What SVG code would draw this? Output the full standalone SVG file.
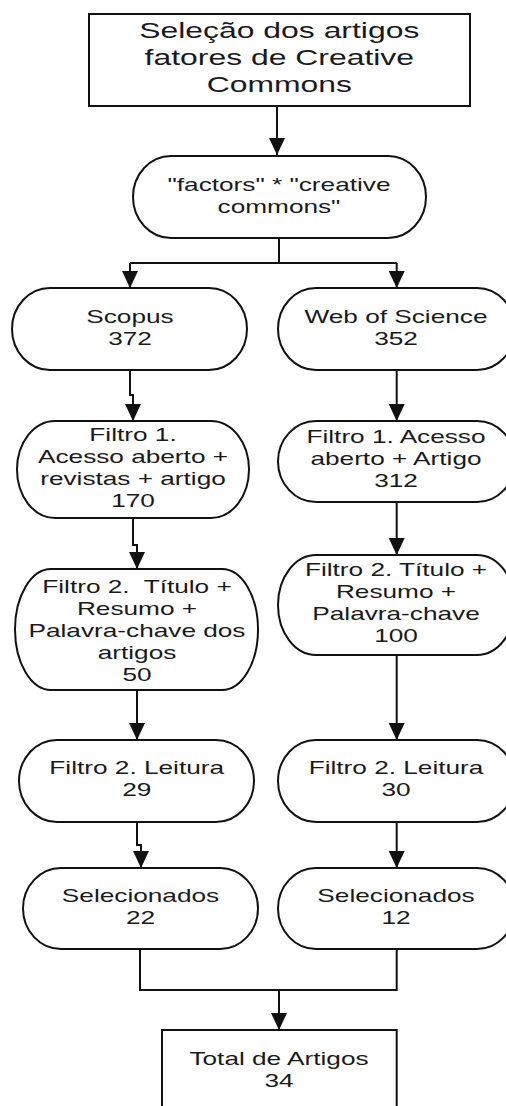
<svg xmlns="http://www.w3.org/2000/svg" width="506" height="1106" viewBox="0 0 506 1106">
<style>
.n{fill:#fff;stroke:#111;stroke-width:2}
.t{font-family:"Liberation Sans",Arial,sans-serif;font-size:19px;fill:#1a1a1a;text-anchor:middle}
.h{font-size:22px}
.c{fill:none;stroke:#111;stroke-width:2}
</style>
<defs>
<marker id="ah" markerUnits="userSpaceOnUse" markerWidth="18" markerHeight="17" refX="17" refY="8" orient="auto">
<path d="M0,0 L17,8 L0,16 z" fill="#111"/>
</marker>
</defs>
<rect width="506" height="1106" fill="#fff"/>
<g id="connectors">
<path class="c" d="M277,106 V155" marker-end="url(#ah)"/>
<path class="c" d="M279,238 V263 M130,263 H396.7"/>
<path class="c" d="M130,263 V288" marker-end="url(#ah)"/>
<path class="c" d="M396.7,263 V288" marker-end="url(#ah)"/>
<path class="c" d="M130,370 V395 H133 V421" marker-end="url(#ah)"/>
<path class="c" d="M396.7,370 V421" marker-end="url(#ah)"/>
<path class="c" d="M133,518 V545 H137 V569" marker-end="url(#ah)"/>
<path class="c" d="M396.7,502 V555" marker-end="url(#ah)"/>
<path class="c" d="M137,690 V740" marker-end="url(#ah)"/>
<path class="c" d="M396.7,655 V740" marker-end="url(#ah)"/>
<path class="c" d="M137,822 V845 H141 V868" marker-end="url(#ah)"/>
<path class="c" d="M396.7,822 V868" marker-end="url(#ah)"/>
<path class="c" d="M140,949 V990 H396.7 V949"/>
<path class="c" d="M279,990 V1030" marker-end="url(#ah)"/>
</g>
<g id="n-title">
<rect class="n" x="89" y="14" width="381" height="92"/>
<text class="t h" transform="translate(279.3,37.5) scale(1.45,1)">Seleção dos artigos</text>
<text class="t h" transform="translate(279.3,64.5) scale(1.45,1)">fatores de Creative</text>
<text class="t h" transform="translate(279.3,92) scale(1.45,1)">Commons</text>
</g>
<g id="n-query">
<rect class="n" x="133" y="156" width="293" height="82" rx="38" ry="41"/>
<text class="t" transform="translate(279,190.5) scale(1.38,1)">"factors" * "creative</text>
<text class="t" transform="translate(279,212.5) scale(1.38,1)">commons"</text>
</g>
<g id="n-scopus">
<rect class="n" x="12" y="288" width="235" height="82" rx="38" ry="41"/>
<text class="t" transform="translate(130,323) scale(1.38,1)">Scopus</text>
<text class="t" transform="translate(130,345) scale(1.38,1)">372</text>
</g>
<g id="n-wos">
<rect class="n" x="278" y="288" width="237" height="82" rx="38" ry="41"/>
<text class="t" transform="translate(396,323) scale(1.38,1)">Web of Science</text>
<text class="t" transform="translate(396,345) scale(1.38,1)">352</text>
</g>
<g id="n-f1-scopus">
<rect class="n" x="17" y="421" width="232" height="97" rx="38" ry="48.5"/>
<text class="t" transform="translate(133,441) scale(1.38,1)">Filtro 1.</text>
<text class="t" transform="translate(133,463) scale(1.38,1)">Acesso aberto +</text>
<text class="t" transform="translate(133,485) scale(1.38,1)">revistas + artigo</text>
<text class="t" transform="translate(133,507) scale(1.38,1)">170</text>
</g>
<g id="n-f1-wos">
<rect class="n" x="278" y="421" width="237" height="81" rx="38" ry="40.5"/>
<text class="t" transform="translate(396,443) scale(1.38,1)">Filtro 1. Acesso</text>
<text class="t" transform="translate(396,465) scale(1.38,1)">aberto + Artigo</text>
<text class="t" transform="translate(396,487) scale(1.38,1)">312</text>
</g>
<g id="n-f2-scopus">
<rect class="n" x="15" y="569" width="243" height="121" rx="36" ry="60.5"/>
<text class="t" transform="translate(137,593) scale(1.38,1)" xml:space="preserve">Filtro 2.  Título +</text>
<text class="t" transform="translate(137,615) scale(1.38,1)">Resumo +</text>
<text class="t" transform="translate(137,637) scale(1.38,1)">Palavra-chave dos</text>
<text class="t" transform="translate(137,659) scale(1.38,1)">artigos</text>
<text class="t" transform="translate(137,681) scale(1.38,1)">50</text>
</g>
<g id="n-f2-wos">
<rect class="n" x="278" y="555" width="237" height="100" rx="38" ry="50"/>
<text class="t" transform="translate(396,576) scale(1.38,1)">Filtro 2. Título +</text>
<text class="t" transform="translate(396,598) scale(1.38,1)">Resumo +</text>
<text class="t" transform="translate(396,620) scale(1.38,1)">Palavra-chave</text>
<text class="t" transform="translate(396,642) scale(1.38,1)">100</text>
</g>
<g id="n-read-scopus">
<rect class="n" x="19" y="740" width="235" height="82" rx="38" ry="41"/>
<text class="t" transform="translate(136.7,774) scale(1.38,1)">Filtro 2. Leitura</text>
<text class="t" transform="translate(136.7,796) scale(1.38,1)">29</text>
</g>
<g id="n-read-wos">
<rect class="n" x="278" y="740" width="237" height="82" rx="38" ry="41"/>
<text class="t" transform="translate(396,774) scale(1.38,1)">Filtro 2. Leitura</text>
<text class="t" transform="translate(396,796) scale(1.38,1)">30</text>
</g>
<g id="n-sel-scopus">
<rect class="n" x="23" y="868" width="235" height="81" rx="38" ry="40.5"/>
<text class="t" transform="translate(140.5,902) scale(1.38,1)">Selecionados</text>
<text class="t" transform="translate(140.5,924) scale(1.38,1)">22</text>
</g>
<g id="n-sel-wos">
<rect class="n" x="278" y="868" width="237" height="81" rx="38" ry="40.5"/>
<text class="t" transform="translate(396,902) scale(1.38,1)">Selecionados</text>
<text class="t" transform="translate(396,924) scale(1.38,1)">12</text>
</g>
<g id="n-total">
<rect class="n" x="162" y="1030" width="234.7" height="90"/>
<text class="t" transform="translate(279,1065) scale(1.38,1)">Total de Artigos</text>
<text class="t" transform="translate(279,1087) scale(1.38,1)">34</text>
</g>
</svg>
